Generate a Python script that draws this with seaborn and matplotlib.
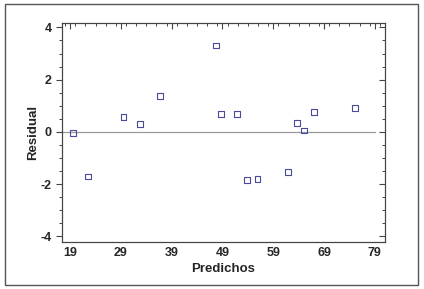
import numpy as np
import pandas as pd
import matplotlib
matplotlib.use("Agg")
import matplotlib.pyplot as plt
import seaborn as sns
from matplotlib.ticker import MultipleLocator
from matplotlib.patches import Rectangle

# valores
predichos = [19.5, 22.6, 29.5, 32.7, 36.7, 47.8, 48.7, 51.9, 53.9, 55.9,
             61.9, 63.7, 65.0, 67.0, 75.1]
residual = [-0.04, -1.71, 0.58, 0.29, 1.37, 3.31, 0.70, 0.70, -1.85, -1.80,
            -1.54, 0.35, 0.05, 0.77, 0.92]
x_ticks = [19, 29, 39, 49, 59, 69, 79]
y_ticks = [-4, -2, 0, 2, 4]

df = pd.DataFrame({"Predichos": predichos, "Residual": residual})

sns.set_style("white")
plt.rcParams["font.family"] = ["Liberation Sans", "DejaVu Sans"]
plt.rcParams["axes.unicode_minus"] = False

fig = plt.figure(figsize=(4.24, 2.89), dpi=100)
ax = fig.add_axes([62 / 424, 1 - 242 / 289, (385 - 62) / 424, (242 - 23) / 289])

# marco exterior
fig.patches.append(Rectangle((5 / 424, 4 / 289), 413 / 424, 281 / 289,
                             transform=fig.transFigure, fill=False,
                             edgecolor="#555555", linewidth=1.0))

ax.set_xlim(17.4, 81.0)
ax.set_ylim(-4.22, 4.17)
ax.axhline(0, xmin=0, xmax=(79 - 17.4) / (81.0 - 17.4), color="#999999", lw=0.9, zorder=1)

sns.scatterplot(data=df, x="Predichos", y="Residual", ax=ax, marker="s",
                s=18, facecolor="none", edgecolor="#4a4a9a", linewidth=0.8, zorder=3)

ax.set_xticks(x_ticks)
ax.set_yticks(y_ticks)
ax.xaxis.set_minor_locator(MultipleLocator(2))
ax.yaxis.set_minor_locator(MultipleLocator(0.5))
ax.tick_params(axis="x", which="both", direction="in", top=True, color="#444444")
ax.tick_params(axis="y", which="both", direction="out", right=False, color="#444444")
ax.tick_params(which="major", length=4, width=0.8, labelsize=9)
ax.tick_params(which="minor", length=2.5, width=0.7)
for lbl in ax.get_xticklabels() + ax.get_yticklabels():
    lbl.set_fontweight("bold")

# marcas del eje derecho hacia dentro
ax2 = ax.twinx()
ax2.set_ylim(ax.get_ylim())
ax2.set_yticks(y_ticks)
ax2.yaxis.set_minor_locator(MultipleLocator(0.5))
ax2.tick_params(which="both", direction="in", color="#444444", labelright=False)
ax2.tick_params(which="major", length=4, width=0.8)
ax2.tick_params(which="minor", length=2.5, width=0.7)
ax2.grid(False)

for a in (ax, ax2):
    for sp in a.spines.values():
        sp.set_color("#444444")
        sp.set_linewidth(0.8)

ax.set_xlabel("Predichos", fontsize=9.5, fontweight="bold", labelpad=3)
ax.set_ylabel("Residual", fontsize=9.5, fontweight="bold")
ax.yaxis.set_label_coords(-0.071, 0.5)

fig.savefig("out.png", dpi=100)
